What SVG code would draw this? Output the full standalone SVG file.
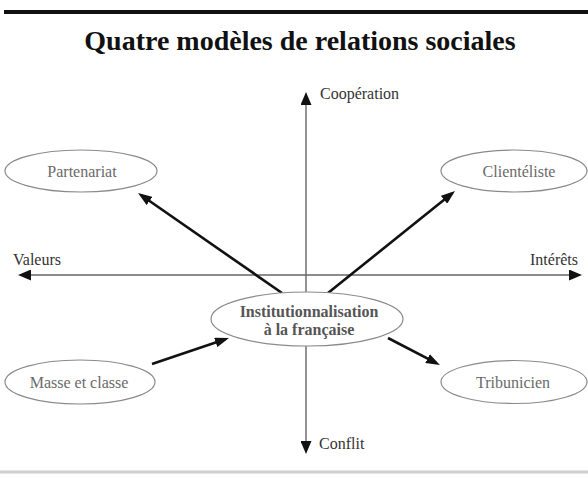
<svg xmlns="http://www.w3.org/2000/svg" width="588" height="479" viewBox="0 0 588 479">
<style>
.title{font-family:"Liberation Serif","Times New Roman",serif;font-weight:bold;font-size:28px;fill:#111;text-anchor:middle}
.axislbl{font-family:"Liberation Serif","Times New Roman",serif;font-size:16px;fill:#333}
.lbl{font-family:"Liberation Serif","Times New Roman",serif;font-size:16px;fill:#6a6a6a;text-anchor:middle}
.clbl{font-family:"Liberation Serif","Times New Roman",serif;font-weight:bold;font-size:16px;fill:#555;text-anchor:middle}
.node{fill:#fff;stroke:#8a8a8a;stroke-width:1.2}
.axis{stroke:#666;stroke-width:1.4;fill:none}
.arrow{stroke:#111;stroke-width:2.6;fill:none}
</style>
<defs>
<marker id="head" viewBox="0 0 14 10" refX="10" refY="5" markerWidth="14" markerHeight="10" markerUnits="userSpaceOnUse" orient="auto">
<path d="M0,0 L14,5 L0,10 z" fill="#111"/>
</marker>
<marker id="axhead" viewBox="0 0 13 11" refX="10" refY="5.5" markerWidth="13" markerHeight="11" markerUnits="userSpaceOnUse" orient="auto">
<path d="M0,0 L13,5.5 L0,11 z" fill="#111"/>
</marker>
</defs>
<rect width="588" height="479" fill="#fff"/>
<line x1="4" y1="12" x2="588" y2="12" stroke="#111" stroke-width="4"/>
<text class="title" x="300" y="50">Quatre modèles de relations sociales</text>
<g id="axes">
<line class="axis" x1="306" y1="320" x2="306" y2="95" marker-end="url(#axhead)"/>
<line class="axis" x1="306" y1="320" x2="306" y2="451" marker-end="url(#axhead)"/>
<line class="axis" x1="306" y1="275" x2="21" y2="275" marker-end="url(#axhead)"/>
<line class="axis" x1="306" y1="275" x2="579" y2="275" marker-end="url(#axhead)"/>
<text class="axislbl" x="320" y="99">Coopération</text>
<text class="axislbl" x="319" y="449">Conflit</text>
<text class="axislbl" x="13" y="265">Valeurs</text>
<text class="axislbl" x="578" y="265" text-anchor="end">Intérêts</text>
</g>
<g id="connectors">
<line class="arrow" x1="282" y1="293" x2="141.3" y2="195.3" marker-end="url(#head)"/>
<line class="arrow" x1="328" y1="293" x2="451.9" y2="193.5" marker-end="url(#head)"/>
<line class="arrow" x1="152" y1="364" x2="225.2" y2="339.2" marker-end="url(#head)"/>
<line class="arrow" x1="388" y1="338" x2="436.4" y2="363.2" marker-end="url(#head)"/>
</g>
<g id="node-center">
<ellipse class="node" cx="307" cy="319" rx="96" ry="27"/>
<text class="clbl" x="309" y="317">Institutionnalisation</text>
<text class="clbl" x="309" y="335">à la française</text>
</g>
<g id="node-partenariat">
<ellipse class="node" cx="81" cy="171" rx="76" ry="21"/>
<text class="lbl" x="82" y="177">Partenariat</text>
</g>
<g id="node-clienteliste">
<ellipse class="node" cx="514" cy="171" rx="73" ry="21"/>
<text class="lbl" x="519" y="177">Clientéliste</text>
</g>
<g id="node-masse">
<ellipse class="node" cx="80" cy="382" rx="75" ry="22"/>
<text class="lbl" x="79" y="388">Masse et classe</text>
</g>
<g id="node-tribunicien">
<ellipse class="node" cx="514" cy="382" rx="73" ry="21.5"/>
<text class="lbl" x="513" y="388">Tribunicien</text>
</g>
<line x1="0" y1="472" x2="588" y2="472" stroke="#cfcfcf" stroke-width="3"/>
</svg>
